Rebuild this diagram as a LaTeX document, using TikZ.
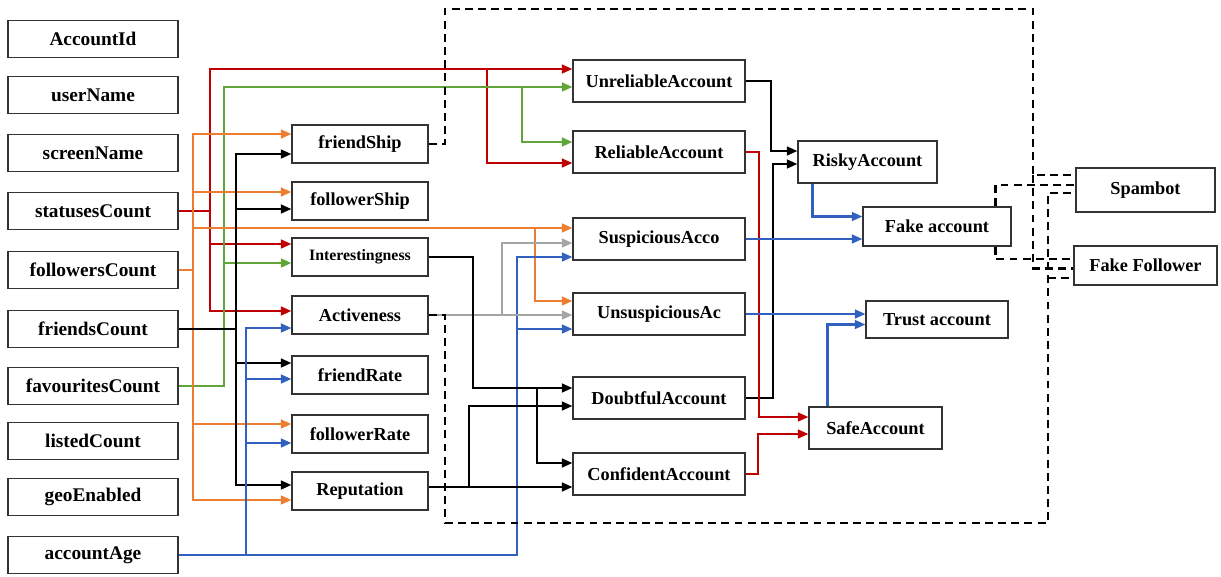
\documentclass[tikz,border=0pt]{standalone}
\usepackage{fontspec}
\setmainfont{Liberation Serif}
\usetikzlibrary{calc,arrows.meta}

\definecolor{relred}{RGB}{192,0,0}
\definecolor{accgreen}{RGB}{96,165,56}
\definecolor{accorange}{RGB}{237,125,49}
\definecolor{accblue}{RGB}{50,96,190}
\definecolor{accgray}{RGB}{165,165,165}

\begin{document}
\begin{tikzpicture}[x=0.02cm,y=-0.02cm,
    box/.style={draw=black!80,line width=0.7pt,inner sep=0pt,font=\bfseries\fontsize{10.4}{12}\selectfont},
    attr/.style={box,minimum width=3.4cm,minimum height=0.74cm,font=\bfseries\fontsize{11}{13}\selectfont},
    feat/.style={box,minimum width=2.72cm,minimum height=0.76cm},
    acc/.style={box,minimum width=3.44cm,minimum height=0.84cm},
    conn/.style={line width=1.25pt,-{Triangle[length=6pt,width=5pt]}},
    dashc/.style={line width=1.4pt,dash pattern=on 4.5pt off 3pt}]
\useasboundingbox (0,0) rectangle (1221,576);

% attributes
\node[attr] (AccountId) at (93,39) {AccountId};
\node[attr] (userName) at (93,95) {userName};
\node[attr] (screenName) at (93,153) {screenName};
\node[attr] (statusesCount) at (93,211) {statusesCount};
\node[attr] (followersCount) at (93,270) {followersCount};
\node[attr] (friendsCount) at (93,329) {friendsCount};
\node[attr] (favouritesCount) at (93,386) {favouritesCount};
\node[attr] (listedCount) at (93,441) {listedCount};
\node[attr] (geoEnabled) at (93,497) {geoEnabled};
\node[attr] (accountAge) at (93,555) {accountAge};

% features
\node[feat] (friendShip) at (360,144) {friendShip};
\node[feat] (followerShip) at (360,201) {followerShip};
\node[feat,font=\bfseries\fontsize{9}{11}\selectfont] (Interestingness) at (360,257) {Interestingness};
\node[feat] (Activeness) at (360,315) {Activeness};
\node[feat] (friendRate) at (360,375) {friendRate};
\node[feat] (followerRate) at (360,434) {followerRate};
\node[feat] (Reputation) at (360,491) {Reputation};

% account types
\node[acc] (Unreliable) at (659,81) {UnreliableAccount};
\node[acc] (Reliable) at (659,152) {ReliableAccount};
\node[acc] (Suspicious) at (659,239) {SuspiciousAcco};
\node[acc] (Unsuspicious) at (659,314) {UnsuspiciousAc};
\node[acc] (Doubtful) at (659,398) {DoubtfulAccount};
\node[acc] (Confident) at (659,474) {ConfidentAccount};

\node[box,minimum width=2.78cm,minimum height=0.84cm] (Risky) at (867.5,162) {RiskyAccount};
\node[box,minimum width=2.96cm,minimum height=0.78cm] (Fake) at (937,226.5) {Fake account};
\node[box,minimum width=2.84cm,minimum height=0.74cm] (Trust) at (937,319.5) {Trust account};
\node[box,minimum width=2.66cm,minimum height=0.84cm] (Safe) at (875.5,428) {SafeAccount};
\node[box,minimum width=2.78cm,minimum height=0.88cm] (Spambot) at (1145.5,190) {Spambot};
\node[box,minimum width=2.86cm,minimum height=0.78cm] (FakeFollower) at (1145.5,265.5) {Fake Follower};

% statusesCount
\draw[conn,relred] (statusesCount.east) -- ++(31,0) |- ($(Unreliable.west)+(0,-12)$);
\draw[conn,relred] (statusesCount.east) -- ++(31,0) |- ($(Interestingness.west)+(0,-13)$);
\draw[conn,relred] (statusesCount.east) -- ++(31,0) |- ($(Activeness.west)+(0,-4)$);
\coordinate (redsplit) at (487,69);
\draw[conn,relred] (redsplit) |- ($(Reliable.west)+(0,11)$);

% favouritesCount
\draw[conn,accgreen] (favouritesCount.east) -- ++(45,0) |- ($(Unreliable.west)+(0,6)$);
\draw[conn,accgreen] (favouritesCount.east) -- ++(45,0) |- ($(Interestingness.west)+(0,6)$);
\coordinate (greensplit) at (522,87);
\draw[conn,accgreen] (greensplit) |- ($(Reliable.west)+(0,-10)$);

% followersCount
\draw[conn,accorange] (followersCount.east) -- ++(14,0) |- ($(friendShip.west)+(0,-10)$);
\draw[conn,accorange] (followersCount.east) -- ++(14,0) |- ($(followerShip.west)+(0,-9)$);
\draw[conn,accorange] (followersCount.east) -- ++(14,0) |- ($(followerRate.west)+(0,-10)$);
\draw[conn,accorange] (followersCount.east) -- ++(14,0) |- ($(Reputation.west)+(0,9)$);
\draw[conn,accorange] (followersCount.east) -- ++(14,0) |- ($(Suspicious.west)+(0,-11)$);
\coordinate (orangesplit) at (535,228);
\draw[conn,accorange] (orangesplit) |- ($(Unsuspicious.west)+(0,-13)$);

% friendsCount
\draw[conn] (friendsCount.east) -- ++(57,0) |- ($(friendShip.west)+(0,10)$);
\draw[conn] (friendsCount.east) -- ++(57,0) |- ($(followerShip.west)+(0,8)$);
\draw[conn] (friendsCount.east) -- ++(57,0) |- ($(friendRate.west)+(0,-12)$);
\draw[conn] (friendsCount.east) -- ++(57,0) |- ($(Reputation.west)+(0,-6)$);

% accountAge
\draw[conn,accblue] (accountAge.east) -- ++(67,0) |- ($(Activeness.west)+(0,13)$);
\draw[conn,accblue] (accountAge.east) -- ++(67,0) |- ($(friendRate.west)+(0,4)$);
\draw[conn,accblue] (accountAge.east) -- ++(67,0) |- ($(followerRate.west)+(0,9)$);
\draw[conn,accblue] (accountAge.east) -- ++(338,0) |- ($(Suspicious.west)+(0,18)$);
\draw[conn,accblue] (accountAge.east) -- ++(338,0) |- ($(Unsuspicious.west)+(0,15)$);

% Activeness
\draw[conn,accgray] (Activeness.east) -- (Unsuspicious.west |- Activeness.east);
\coordinate (graysplit) at (502,315);
\draw[conn,accgray] (graysplit) |- ($(Suspicious.west)+(0,4)$);

% Interestingness, Reputation
\draw[conn] (Interestingness.east) -- ++(44,0) |- ($(Doubtful.west)+(0,-10)$);
\coordinate (intsplit) at (537,388);
\draw[conn] (intsplit) |- ($(Confident.west)+(0,-11)$);
\draw[conn] ($(Reputation.east)+(0,-4)$) -- ($(Confident.west)+(0,13)$);
\coordinate (repsplit) at (469,487);
\draw[conn] (repsplit) |- ($(Doubtful.west)+(0,8)$);

% account types
\draw[conn] (Unreliable.east) -- ++(25,0) |- ($(Risky.west)+(0,-11)$);
\draw[conn] (Doubtful.east) -- ++(27,0) |- ($(Risky.west)+(0,2)$);
\draw[conn,relred] (Reliable.east) -- ++(13,0) |- ($(Safe.west)+(0,-11)$);
\draw[conn,relred] (Confident.east) -- ++(12,0) |- ($(Safe.west)+(0,6)$);
\draw[conn,accblue] ($(Risky.south west)+(15,0)$) |- ($(Fake.west)+(0,-10)$);
\draw[conn,accblue] (Suspicious.east) -- (Fake.west |- Suspicious.east);
\draw[conn,accblue] (Unsuspicious.east) -- (Trust.west |- Unsuspicious.east);
\draw[conn,accblue] ($(Safe.north west)+(19,0)$) |- ($(Trust.west)+(0,5)$);

% dashed groups
\coordinate (dashTL) at (445,9);
\coordinate (dashTR) at (1033,9);
\coordinate (dashR) at (1033,175);
\draw[dashc] (friendShip.east) -| (dashTL) -- (dashTR) |- ($(Spambot.west)+(0,-15)$);
\draw[dashc] (dashR) |- ($(FakeFollower.west)+(0,3)$);
\coordinate (dashBL) at (445,523);
\coordinate (dashBR) at (1048,523);
\coordinate (dashBR2) at (1048,278);
\draw[dashc] (Activeness.east) -| (dashBL) -- (dashBR) |- ($(Spambot.west)+(0,3)$);
\draw[dashc] (dashBR2) -- (FakeFollower.west |- dashBR2);
\draw[dashc] ($(Fake.north east)+(-16,0)$) |- ($(Spambot.west)+(0,-5)$);
\draw[dashc] ($(Fake.south east)+(-16,0)$) |- ($(FakeFollower.west)+(0,-6.5)$);
\end{tikzpicture}
\end{document}
